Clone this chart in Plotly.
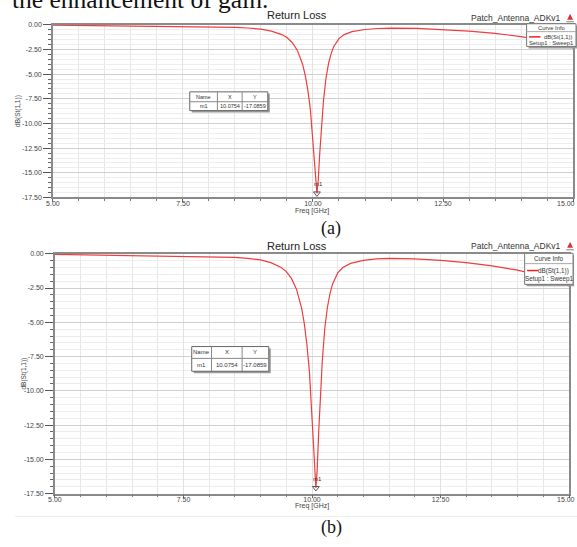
import plotly.graph_objects as go

# ---- data ----
freq_ghz = [5.0, 5.5, 6.0, 6.5, 7.0, 7.5, 8.0, 8.5, 8.75, 9.0, 9.2, 9.4, 9.5, 9.6,
            9.7, 9.8, 9.85, 9.9, 9.95, 10.0, 10.03, 10.0754, 10.1, 10.13, 10.16,
            10.2, 10.25, 10.3, 10.35, 10.4, 10.5, 10.6, 10.75, 11.0, 11.25, 11.5,
            12.0, 12.5, 13.0, 13.5, 14.0, 14.5, 15.0]
s11_db = [-0.05, -0.08, -0.10, -0.11, -0.13, -0.15, -0.19, -0.26, -0.33, -0.45,
          -0.65, -1.0, -1.3, -1.8, -2.6, -4.0, -5.1, -6.6, -8.6, -11.5, -14.0,
          -17.0859, -15.8, -13.0, -10.5, -7.8, -5.4, -3.9, -2.9, -2.2, -1.4, -1.0,
          -0.7, -0.48, -0.38, -0.34, -0.37, -0.48, -0.65, -0.88, -1.2, -1.65, -2.35]
marker_name = "m1"
marker_x = 10.0754
marker_y = -17.0859
x_ticks = [5.0, 7.5, 10.0, 12.5, 15.0]
y_ticks = [0.0, -2.5, -5.0, -7.5, -10.0, -12.5, -15.0, -17.5]

W, H = 577, 547
def px(x): return x / W
def py(y): return 1 - y / H

fig = go.Figure()
shapes = []
annots = []

SANS = "Liberation Sans, Arial, sans-serif"
SERIF = "Liberation Serif, Times New Roman, serif"


def txt(text, x, y, size, family=SANS, color="#333", xanchor="center", yanchor="middle", **kw):
    d = dict(text=text, x=px(x), y=py(y), xref="paper", yref="paper", showarrow=False,
             xanchor=xanchor, yanchor=yanchor, font=dict(family=family, size=size, color=color))
    d.update(kw)
    annots.append(d)


panels = [
    dict(ax="", x0=46.5, x1=573, y0=21, y1=196, title_y=11, fs=7, lab_y=202,
         ylab_x=11, xlab_y=210, cap="(a)", cap_y=227, name_y=14,
         ci=(526, 576, 20, 43, 24.3, 28, 33.3, 39.3), tab=(185, 264, 89, 108, 99, 213, 238),
         tfs=5.5, cifs=5.8),
    dict(ax="2", x0=48.5, x1=569, y0=253, y1=496, title_y=245, fs=7, lab_y=502,
         ylab_x=17, xlab_y=508.5, cap="(b)", cap_y=530, name_y=245,
         ci=(524, 573, 252.5, 284, 257.5, 263, 270, 278.5), tab=(187, 265, 347, 372, 359, 207, 238),
         tfs=6, cifs=6.3),
]

for p in panels:
    a = p["ax"]
    fig.add_trace(go.Scatter(x=freq_ghz, y=s11_db, mode="lines",
                             line=dict(color="#f03c3c", width=1.2),
                             xaxis="x" + a, yaxis="y" + a, showlegend=False,
                             hoverinfo="skip"))
    fig.add_trace(go.Scatter(x=[marker_x], y=[marker_y], mode="markers",
                             marker=dict(symbol="triangle-down-open", size=6,
                                         color="#555555", line=dict(width=1)),
                             xaxis="x" + a, yaxis="y" + a, showlegend=False))
    xa = dict(domain=[px(p["x0"]), px(p["x1"])], range=[5, 15], tickvals=x_ticks,
              ticktext=[f"{v:.2f}" for v in x_ticks], ticks="outside", ticklen=3,
              tickcolor="#666", showline=True, mirror=True, linecolor="#8a8a8a",
              linewidth=1.5, showgrid=True, gridcolor="#e2e2e2", zeroline=False,
              tickfont=dict(family=SANS, size=p["fs"], color="#444"),
              ticklabelstandoff=-5,
              minor=dict(dtick=0.5, tick0=5, ticks="outside", ticklen=2, tickcolor="#777",
                         showgrid=True, gridcolor="#e6e6e6"),
              anchor="y" + a, fixedrange=True)
    ya = dict(domain=[py(p["y1"]), py(p["y0"])], range=[-17.5, 0], tickvals=y_ticks,
              ticktext=[f"{v:.2f}" for v in y_ticks], ticks="outside", ticklen=8,
              tickcolor="#555", showline=True, mirror=True, linecolor="#8a8a8a",
              linewidth=1.5, showgrid=True, gridcolor="#cfcfcf", zeroline=False,
              tickfont=dict(family=SANS, size=p["fs"], color="#444"),
              ticklabeloverflow="allow",
              minor=dict(dtick=0.5, tick0=0, ticks="outside", ticklen=3, tickcolor="#666",
                         showgrid=True, gridcolor="#ededed"),
              anchor="x" + a, fixedrange=True)
    fig.update_layout(**{"xaxis" + a: xa, "yaxis" + a: ya})

    # last x tick label sits at the page edge: keep it inside the page
    txt(f"{x_ticks[-1]:.2f}", 577, p["lab_y"], p["fs"], color="#444", xanchor="right")

    txt("Return Loss", 294, p["title_y"], 11, color="#222")
    txt("Patch_Antenna_ADKv1", 563, p["name_y"], 8.5, xanchor="right")
    txt("dB(St(1,1))", p["ylab_x"], (p["y0"] + p["y1"]) / 2, 6.5, color="#444", textangle=-90)
    txt("Freq [GHz]", 309, p["xlab_y"], 7, color="#444")
    txt(p["cap"], 328, p["cap_y"], 18, family=SERIF, color="#111")
    annots.append(dict(text=marker_name, x=marker_x, y=marker_y, xref="x" + a, yref="y" + a,
                       xanchor="center", yanchor="middle",
                       showarrow=False, yshift=9, xshift=2,
                       font=dict(family=SANS, size=6, color="#333")))
    # small icon
    ix, iy = 570, p["name_y"]
    shapes.append(dict(type="path", xref="paper", yref="paper",
                       path=f"M {px(ix-3)} {py(iy+2)} L {px(ix+3)} {py(iy+2)} L {px(ix)} {py(iy-4)} Z",
                       fillcolor="#e03030", line=dict(width=0)))
    shapes.append(dict(type="line", xref="paper", yref="paper", x0=px(ix-4), x1=px(ix+4),
                       y0=py(iy+4), y1=py(iy+4), line=dict(color="#888", width=1)))
    # Curve info box
    bx0, bx1, by0, by1, hy, dy, ry, sy = p["ci"]
    shapes.append(dict(type="rect", xref="paper", yref="paper", x0=px(bx0 + 2), x1=px(bx1 + 1),
                       y0=py(by1 + 2), y1=py(by0 + 2), fillcolor="#9a9a9a", line=dict(width=0),
                       layer="above"))
    shapes.append(dict(type="rect", xref="paper", yref="paper", x0=px(bx0), x1=px(bx1),
                       y0=py(by1), y1=py(by0), fillcolor="white",
                       line=dict(color="#777", width=1), layer="above"))
    shapes.append(dict(type="line", xref="paper", yref="paper", x0=px(bx0), x1=px(bx1),
                       y0=py(dy), y1=py(dy), line=dict(color="#aaa", width=1), layer="above"))
    shapes.append(dict(type="line", xref="paper", yref="paper", x0=px(bx0 + 2.5), x1=px(bx0 + 14),
                       y0=py(ry), y1=py(ry), line=dict(color="#f02020", width=1.5), layer="above"))
    txt("Curve Info", (bx0 + bx1) / 2, hy, p["cifs"])
    txt("dB(St(1,1))", bx1 - 2, ry, p["cifs"], xanchor="right")
    txt("Setup1 : Sweep1", (bx0 + bx1) / 2, sy, p["cifs"])
    # marker table
    tx0, tx1, ty0, ty1, trow, c1, c2 = p["tab"]
    shapes.append(dict(type="rect", xref="paper", yref="paper", x0=px(tx0 + 2), x1=px(tx1 + 2),
                       y0=py(ty1 + 2), y1=py(ty0 + 2), fillcolor="#9a9a9a", line=dict(width=0),
                       layer="above"))
    shapes.append(dict(type="rect", xref="paper", yref="paper", x0=px(tx0), x1=px(tx1),
                       y0=py(ty1), y1=py(ty0), fillcolor="white",
                       line=dict(color="#666", width=1), layer="above"))
    shapes.append(dict(type="line", xref="paper", yref="paper", x0=px(tx0), x1=px(tx1),
                       y0=py(trow), y1=py(trow), line=dict(color="#888", width=1), layer="above"))
    for c in (c1, c2):
        shapes.append(dict(type="line", xref="paper", yref="paper", x0=px(c), x1=px(c),
                           y0=py(ty1), y1=py(ty0), line=dict(color="#888", width=1), layer="above"))
    cols = [(tx0 + c1) / 2, (c1 + c2) / 2, (c2 + tx1) / 2]
    r1 = (ty0 + trow) / 2
    r2 = (trow + ty1) / 2
    for xc, t in zip(cols, ["Name", "X", "Y"]):
        txt(t, xc, r1, p["tfs"])
    for xc, t in zip(cols, [marker_name, f"{marker_x:.4f}", f"{marker_y:.4f}"]):
        txt(t, xc, r2, p["tfs"])

# cut-off caption text at top
txt("the enhancement of gain.", 3, 12.5, 25.5, family=SERIF, color="#111",
    xanchor="left", yanchor="bottom")
shapes.append(dict(type="line", xref="paper", yref="paper", x0=px(8), x1=1, y0=py(519), y1=py(519),
                   line=dict(color="#ececec", width=1)))

fig.update_layout(width=W, height=H, margin=dict(l=0, r=0, t=0, b=0),
                  paper_bgcolor="white", plot_bgcolor="white",
                  shapes=shapes, annotations=annots, showlegend=False)
fig.write_html("out.html")
